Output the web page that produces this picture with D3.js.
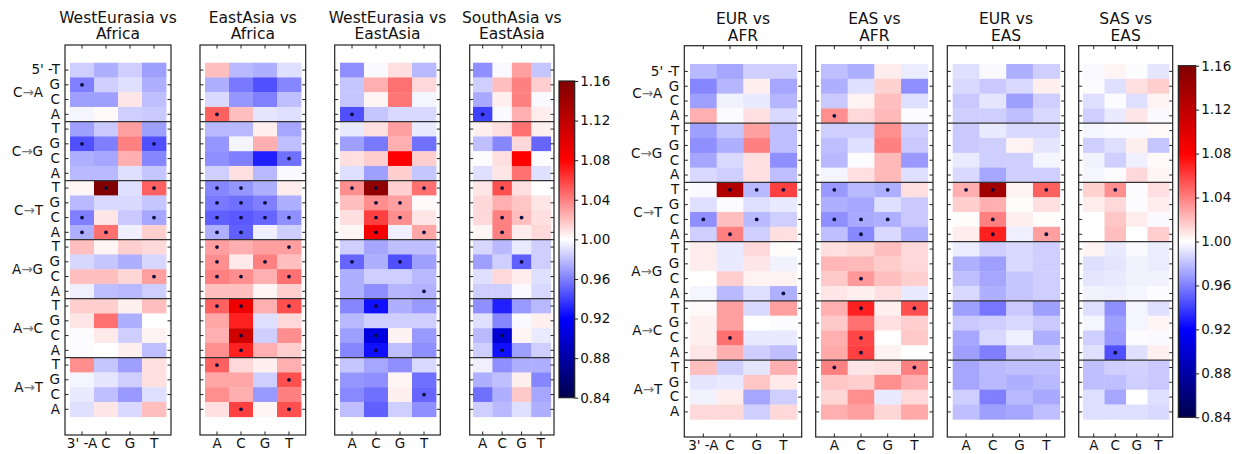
<!DOCTYPE html>
<html>
<head>
<meta charset="utf-8">
<script src="https://cdn.jsdelivr.net/npm/d3@7"></script>
<style>
  body { margin: 0; background: #fff; }
  text { font-family: "DejaVu Sans", sans-serif; }
</style>
</head>
<body>
<svg id="chart" width="1237" height="454"></svg>
<script>
// 3' base (columns) and 5' base (rows within each mutation block)
const bases3 = ["A", "C", "G", "T"];
const bases5 = ["T", "G", "C", "A"];
const mutations = [["C", "A"], ["C", "G"], ["C", "T"], ["A", "G"], ["A", "C"], ["A", "T"]];
const colorTicks = [0.84, 0.88, 0.92, 0.96, 1.00, 1.04, 1.08, 1.12, 1.16];

// ratios, 24 rows (mutation x 5' base) by 4 cols (3' base)
const westEurasiaVsAfrica = [
  [0.985, 0.975, 0.985, 0.970], [0.960, 0.985, 0.990, 0.975], [0.970, 0.970, 1.008, 0.980], [0.997, 1.002, 0.985, 0.983],
  [0.970, 0.983, 1.030, 0.970], [0.945, 0.960, 1.040, 0.945], [0.975, 0.972, 1.025, 0.962], [0.978, 0.978, 0.990, 0.982],
  [1.003, 1.160, 0.990, 1.050], [0.978, 0.988, 0.988, 0.982], [0.960, 1.008, 0.983, 0.972], [0.975, 1.045, 0.995, 1.015],
  [1.020, 1.003, 1.015, 1.012], [0.987, 0.982, 0.975, 0.987], [1.020, 1.020, 1.013, 1.030], [0.995, 0.980, 0.978, 0.985],
  [1.015, 1.015, 1.005, 1.020], [1.008, 1.045, 0.975, 1.000], [0.999, 1.007, 0.985, 1.004], [0.999, 1.000, 1.005, 0.980],
  [1.035, 0.982, 0.970, 1.010], [0.997, 0.992, 0.985, 1.010], [0.993, 0.980, 0.968, 0.990], [0.990, 1.008, 0.988, 1.020]
];
const westEurasiaVsAfricaSig = [[1,0],[5,0],[5,3],[8,1],[8,3],[10,0],[10,3],[11,0],[11,1],[14,3]];

const eastAsiaVsAfrica = [
  [1.020, 0.978, 0.975, 0.990], [0.975, 0.958, 0.945, 0.962], [0.988, 0.967, 0.960, 0.980], [1.050, 1.020, 0.992, 0.990],
  [0.978, 0.978, 1.005, 0.972], [0.967, 0.997, 1.025, 0.980], [0.965, 0.960, 0.930, 0.955], [0.985, 1.010, 0.978, 0.998],
  [0.962, 0.967, 0.975, 1.006], [0.958, 0.955, 0.960, 0.975], [0.950, 0.948, 0.952, 0.965], [0.975, 0.950, 0.995, 0.985],
  [1.030, 1.025, 1.030, 1.030], [1.035, 1.007, 1.040, 1.020], [1.040, 1.035, 1.025, 1.045], [1.020, 1.020, 1.003, 1.015],
  [1.050, 1.090, 1.025, 1.055], [1.028, 1.070, 0.990, 1.012], [1.025, 1.110, 0.985, 1.035], [1.035, 1.070, 1.025, 1.015],
  [1.050, 1.012, 1.005, 1.025], [1.028, 1.028, 0.985, 1.055], [1.035, 1.025, 0.968, 1.040], [1.010, 1.060, 1.003, 1.055]
];
const eastAsiaVsAfricaSig = [[3,0],[6,3],[8,0],[8,1],[9,0],[9,1],[9,2],[10,0],[10,1],[10,2],[10,3],[11,0],[11,1],
  [12,0],[12,3],[13,0],[13,2],[14,0],[14,1],[14,3],[16,0],[16,1],[16,3],[18,1],[19,1],[20,0],[21,3],[23,1],[23,3]];

const westEurasiaVsEastAsia = [
  [0.965, 0.998, 1.010, 0.978], [0.982, 1.025, 1.045, 1.012], [0.982, 1.003, 1.043, 0.997], [0.945, 0.982, 0.988, 0.988],
  [0.993, 1.010, 1.030, 0.993], [0.970, 0.958, 1.025, 0.955], [1.010, 1.015, 1.080, 1.015], [0.990, 0.970, 1.015, 0.982],
  [1.035, 1.150, 1.015, 1.045], [1.020, 1.035, 1.030, 1.002], [1.010, 1.060, 1.035, 1.008], [1.003, 1.085, 0.995, 1.028],
  [0.985, 0.972, 0.980, 0.980], [0.952, 0.975, 0.945, 0.970], [0.975, 0.985, 0.985, 0.978], [0.975, 0.965, 0.977, 0.976],
  [0.962, 0.925, 0.975, 0.968], [0.978, 0.985, 0.985, 0.985], [0.970, 0.905, 1.004, 0.968], [0.962, 0.925, 0.980, 0.965],
  [0.982, 0.972, 0.965, 0.988], [0.967, 0.965, 1.003, 0.955], [0.963, 0.955, 1.005, 0.952], [0.980, 0.950, 0.985, 0.965]
];
const westEurasiaVsEastAsiaSig = [[3,0],[8,0],[8,1],[8,3],[9,1],[9,2],[10,1],[10,2],[11,1],[11,3],
  [13,0],[13,2],[15,3],[16,1],[18,1],[19,1],[22,3]];

const southAsiaVsEastAsia = [
  [0.965, 0.998, 1.030, 0.982], [0.985, 1.020, 1.040, 1.015], [0.973, 1.005, 1.040, 0.998], [0.940, 0.998, 1.025, 1.006],
  [1.005, 1.010, 1.045, 1.005], [0.980, 0.962, 1.012, 0.952], [0.999, 1.010, 1.080, 0.999], [0.990, 1.008, 1.045, 0.990],
  [1.008, 1.055, 1.010, 1.000], [1.012, 1.025, 1.018, 1.008], [1.012, 1.040, 1.020, 1.010], [1.003, 1.040, 1.006, 1.012],
  [0.987, 0.978, 0.993, 0.985], [0.970, 0.985, 0.950, 0.985], [0.990, 1.012, 1.006, 0.990], [0.985, 0.985, 0.998, 0.988],
  [0.965, 0.930, 0.968, 0.978], [0.990, 0.962, 0.998, 1.005], [0.978, 0.900, 1.003, 0.993], [0.985, 0.925, 0.970, 0.985],
  [0.995, 0.965, 0.975, 0.975], [0.975, 0.980, 1.005, 0.962], [0.955, 0.975, 1.017, 0.972], [0.985, 0.978, 0.990, 0.975]
];
const southAsiaVsEastAsiaSig = [[3,0],[8,1],[10,1],[10,2],[11,1],[13,2],[18,1],[19,1]];

const eurVsAfr = [
  [0.978, 0.972, 0.985, 0.985], [0.962, 0.977, 1.005, 0.972], [0.970, 0.996, 0.993, 0.977], [1.025, 0.999, 1.010, 0.988],
  [0.970, 0.982, 1.030, 0.980], [0.965, 0.975, 1.040, 0.980], [0.972, 0.988, 1.010, 0.965], [0.988, 0.985, 1.010, 0.980],
  [0.998, 1.130, 0.978, 1.060], [0.990, 0.999, 0.990, 0.993], [0.965, 1.020, 0.978, 0.985], [0.985, 1.040, 0.985, 1.010],
  [1.006, 0.993, 1.012, 1.001], [1.006, 0.993, 1.008, 0.996], [1.000, 1.015, 1.004, 1.004], [0.997, 0.978, 0.990, 0.975],
  [1.002, 1.030, 0.988, 1.030], [1.005, 1.030, 1.000, 0.999], [1.005, 1.045, 0.993, 0.993], [1.008, 1.025, 0.985, 0.980],
  [1.020, 0.985, 0.992, 1.025], [0.992, 0.993, 1.018, 1.007], [0.996, 1.006, 0.972, 0.985], [1.012, 1.012, 0.985, 1.012]
];
const eurVsAfrSig = [[8,1],[8,2],[8,3],[10,0],[10,2],[11,1],[15,3],[18,1]];

const easVsAfr = [
  [0.980, 0.975, 1.006, 0.994], [0.975, 0.990, 1.014, 0.965], [0.983, 1.004, 1.020, 0.990], [1.035, 1.012, 1.022, 0.999],
  [0.985, 0.985, 1.035, 0.985], [0.980, 0.990, 1.040, 0.983], [0.978, 0.999, 1.022, 0.968], [0.997, 1.010, 1.022, 0.990],
  [0.968, 0.978, 0.975, 1.010], [0.975, 0.972, 0.990, 0.983], [0.965, 0.973, 0.975, 0.983], [0.980, 0.963, 0.988, 0.975],
  [1.010, 1.013, 1.020, 1.012], [1.023, 1.022, 1.016, 1.012], [1.017, 1.032, 1.020, 1.015], [1.008, 1.005, 1.010, 0.993],
  [1.025, 1.070, 1.005, 1.055], [1.017, 1.045, 1.010, 1.015], [1.025, 1.058, 1.000, 1.017], [1.027, 1.060, 1.004, 1.000],
  [1.040, 1.008, 1.010, 1.040], [1.018, 1.015, 1.035, 1.025], [1.013, 1.035, 0.993, 1.012], [1.025, 1.030, 1.013, 1.027]
];
const easVsAfrSig = [[3,0],[8,0],[8,2],[10,0],[10,1],[10,2],[11,1],[14,1],[16,1],[16,3],[18,1],[19,1],[20,0],[20,3]];

const eurVsEas = [
  [0.990, 0.998, 0.975, 0.985], [0.988, 0.983, 0.988, 1.005], [0.983, 0.992, 0.970, 0.985], [0.985, 0.985, 0.980, 0.988],
  [0.983, 0.993, 0.988, 0.988], [0.983, 0.985, 1.004, 0.992], [0.993, 0.985, 0.985, 0.997], [0.988, 0.972, 0.985, 0.985],
  [1.025, 1.140, 1.004, 1.050], [1.015, 1.025, 1.001, 1.010], [1.001, 1.040, 1.005, 1.001], [1.006, 1.070, 0.995, 1.030],
  [0.994, 0.985, 0.988, 0.985], [0.975, 0.970, 0.988, 0.985], [0.980, 0.972, 0.982, 0.985], [0.988, 0.975, 0.982, 0.985],
  [0.970, 0.957, 0.983, 0.970], [0.983, 0.985, 0.988, 0.983], [0.972, 0.988, 0.995, 0.975], [0.970, 0.960, 0.983, 0.985],
  [0.972, 0.978, 0.980, 0.980], [0.972, 0.978, 0.975, 0.978], [0.985, 0.960, 0.978, 0.973], [0.980, 0.970, 0.972, 0.980]
];
const eurVsEasSig = [[8,0],[8,1],[8,3],[10,1],[11,1],[11,3]];

const sasVsEas = [
  [0.998, 1.003, 0.999, 0.992], [0.999, 0.990, 1.010, 1.015], [0.990, 0.999, 0.990, 1.004], [0.985, 0.993, 1.008, 0.998],
  [0.997, 0.998, 0.998, 1.002], [0.985, 0.990, 1.005, 0.982], [0.996, 0.985, 0.995, 1.002], [0.997, 0.999, 1.012, 1.003],
  [1.014, 1.035, 0.999, 1.010], [1.006, 1.012, 0.999, 1.006], [1.000, 1.018, 1.006, 0.998], [1.000, 1.020, 1.000, 1.015],
  [1.004, 0.993, 0.998, 0.994], [0.990, 0.992, 0.996, 0.994], [0.992, 0.993, 0.996, 0.996], [0.996, 0.995, 0.997, 0.999],
  [0.990, 0.965, 0.997, 0.990], [0.997, 0.970, 0.997, 1.003], [0.985, 0.968, 0.999, 0.998], [0.990, 0.945, 0.990, 1.005],
  [0.980, 0.985, 0.986, 0.983], [0.980, 0.980, 0.985, 0.983], [0.990, 0.972, 1.000, 0.990], [0.990, 0.990, 0.990, 0.988]
];
const sasVsEasSig = [[8,1],[19,1]];

const svg = d3.select("#chart");

const color = d3.scaleLinear()
  .domain([0.84, 0.92, 1.0, 1.08, 1.16])
  .range(["#00004d", "#0000ff", "#ffffff", "#ff0000", "#800000"])
  .clamp(true);

// frame = axes box, cells = image extent inside it
const leftRows = {top: 62.7, bottom: 416.7, frameTop: 45, frameBottom: 435, titleY: 22.5};
const rightRows = {top: 64, bottom: 419.3, frameTop: 45.7, frameBottom: 437, titleY: 24};

const panels = [
  {title: ["WestEurasia vs", "Africa"], data: westEurasiaVsAfrica, sig: westEurasiaVsAfricaSig, f: [65, 171], c: [70, 166], rows: leftRows, first: true},
  {title: ["EastAsia vs", "Africa"], data: eastAsiaVsAfrica, sig: eastAsiaVsAfricaSig, f: [200, 305.7], c: [205, 301], rows: leftRows},
  {title: ["WestEurasia vs", "EastAsia"], data: westEurasiaVsEastAsia, sig: westEurasiaVsEastAsiaSig, f: [334.7, 440.3], c: [340, 436], rows: leftRows},
  {title: ["SouthAsia vs", "EastAsia"], data: southAsiaVsEastAsia, sig: southAsiaVsEastAsiaSig, f: [469.7, 554], c: [473, 550.7], rows: leftRows},
  {title: ["EUR vs", "AFR"], data: eurVsAfr, sig: eurVsAfrSig, f: [684.3, 801.7], c: [690, 796.7], rows: rightRows, first: true},
  {title: ["EAS vs", "AFR"], data: easVsAfr, sig: easVsAfrSig, f: [815.7, 933], c: [821, 927.7], rows: rightRows},
  {title: ["EUR vs", "EAS"], data: eurVsEas, sig: eurVsEasSig, f: [947.3, 1064.7], c: [952.7, 1059.7], rows: rightRows},
  {title: ["SAS vs", "EAS"], data: sasVsEas, sig: sasVsEasSig, f: [1078.7, 1172.7], c: [1083, 1169], rows: rightRows}
];

const rowIdx = d3.range(24);

panels.forEach(p => {
  const g = svg.append("g");
  const x = d3.scaleBand().domain(bases3).range(p.c);
  const y = d3.scaleBand().domain(rowIdx).range([p.rows.top, p.rows.bottom]);
  const cx = (p.f[0] + p.f[1]) / 2;

  // title
  const t = g.append("text")
    .attr("x", cx).attr("y", p.rows.titleY)
    .attr("text-anchor", "middle")
    .attr("font-size", 15.5).attr("fill", "#111");
  t.append("tspan").attr("x", cx).text(p.title[0]);
  t.append("tspan").attr("x", cx).attr("dy", 16.8).text(p.title[1]);

  // cells
  const cells = [];
  p.data.forEach((row, r) => row.forEach((v, c) => cells.push({r, c, v})));
  g.selectAll("rect.cell").data(cells).enter().append("rect")
    .attr("class", "cell")
    .attr("x", d => x(bases3[d.c]))
    .attr("y", d => y(d.r))
    .attr("width", x.bandwidth() + 0.4)
    .attr("height", y.bandwidth() + 0.4)
    .attr("fill", d => color(d.v));

  // significance dots
  g.selectAll("circle.sig").data(p.sig).enter().append("circle")
    .attr("cx", d => x(bases3[d[1]]) + x.bandwidth() / 2)
    .attr("cy", d => y(d[0]) + y.bandwidth() / 2)
    .attr("r", 1.9)
    .attr("fill", "#0b0b3b");

  // block separators
  g.selectAll("line.sep").data([4, 8, 12, 16, 20]).enter().append("line")
    .attr("x1", p.f[0]).attr("x2", p.f[1])
    .attr("y1", d => y(d)).attr("y2", d => y(d))
    .attr("stroke", "#333").attr("stroke-width", 1.3);

  // axes with inward ticks
  const yLeft = d3.axisLeft(y).tickSize(-3.5).tickSizeOuter(0).tickPadding(5)
    .tickFormat(i => p.first ? (i === 0 ? "5' -T" : bases5[i % 4]) : "");
  const yRight = d3.axisRight(y).tickSize(-3.5).tickSizeOuter(0).tickFormat("");
  const xBottom = d3.axisBottom(x).tickSize(-3.5).tickSizeOuter(0).tickPadding(3)
    .tickFormat((b, i) => p.first && i === 0 ? "3' -A" : b);
  const xTop = d3.axisTop(x).tickSize(-3.5).tickSizeOuter(0).tickFormat("");

  [[yLeft, `translate(${p.f[0]},0)`], [yRight, `translate(${p.f[1]},0)`],
   [xBottom, `translate(0,${p.rows.frameBottom})`], [xTop, `translate(0,${p.rows.frameTop})`]]
    .forEach(([ax, tr]) => {
      const a = g.append("g").attr("transform", tr).call(ax);
      a.select(".domain").remove();
      a.selectAll("line").attr("stroke", "#222");
      a.selectAll("text").attr("font-size", 13.5).attr("fill", "#111").attr("font-family", "DejaVu Sans, sans-serif");
    });

  // mutation labels
  if (p.first) {
    g.selectAll("text.mut").data(mutations).enter().append("text")
      .attr("x", p.f[0] - 22)
      .attr("y", (d, i) => y(i * 4 + 2))
      .attr("dy", "0.35em")
      .attr("text-anchor", "end")
      .attr("font-size", 13.5).attr("fill", "#111")
      .each(function(d) {
        const s = d3.select(this);
        s.append("tspan").text(d[0]);
        s.append("tspan").attr("fill", "#777").text("\u2192");
        s.append("tspan").text(d[1]);
      });
  }

  // frame
  g.append("rect")
    .attr("x", p.f[0]).attr("y", p.rows.frameTop)
    .attr("width", p.f[1] - p.f[0]).attr("height", p.rows.frameBottom - p.rows.frameTop)
    .attr("fill", "none").attr("stroke", "#222").attr("stroke-width", 1.2);
});

// colorbars
const defs = svg.append("defs");
const grad = defs.append("linearGradient").attr("id", "seismic")
  .attr("x1", 0).attr("y1", 1).attr("x2", 0).attr("y2", 0);
d3.range(0, 1.0001, 0.05).forEach(t => {
  grad.append("stop").attr("offset", t).attr("stop-color", color(0.84 + t * 0.32));
});

[{x: 559, w: 15.7, top: 81, bottom: 397.7}, {x: 1178.3, w: 17.4, top: 65.7, bottom: 417.3}].forEach(cb => {
  const s = d3.scaleLinear().domain([0.84, 1.16]).range([cb.bottom, cb.top]);
  svg.append("rect")
    .attr("x", cb.x).attr("y", cb.top).attr("width", cb.w).attr("height", cb.bottom - cb.top)
    .attr("fill", "url(#seismic)").attr("stroke", "#222").attr("stroke-width", 1.2);
  const a = svg.append("g").attr("transform", `translate(${cb.x + cb.w},0)`)
    .call(d3.axisRight(s).tickValues(colorTicks).tickFormat(d3.format(".2f")).tickSize(3.5).tickPadding(2));
  a.select(".domain").remove();
  a.selectAll("line").attr("stroke", "#222");
  a.selectAll("text").attr("font-size", 13.5).attr("fill", "#111").attr("font-family", "DejaVu Sans, sans-serif");
});
</script>
</body>
</html>
